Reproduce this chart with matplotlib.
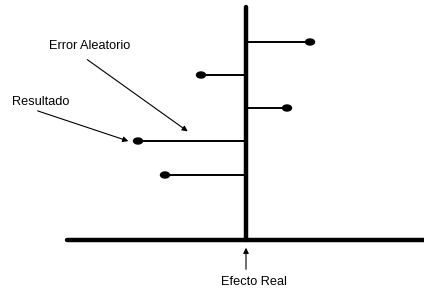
import matplotlib.pyplot as plt
from matplotlib.patches import Ellipse

plt.rcParams['font.family'] = ['Liberation Sans', 'DejaVu Sans']

# Datos (coordenadas del diagrama)
efecto_real = 246
filas = [42, 75, 108, 141, 175]
resultados = [310, 201, 287, 138, 165]
eje_y = 240

fig = plt.figure(figsize=(4.24, 2.89), dpi=100)
ax = fig.add_axes([0, 0, 1, 1])
ax.set_xlim(0, 424)
ax.set_ylim(289, 0)
ax.axis('off')

# Ejes principales
ax.plot([67, 424], [eje_y, eje_y], color='black', lw=3.2, solid_capstyle='round')
ax.plot([efecto_real, efecto_real], [7, eje_y], color='black', lw=3.2, solid_capstyle='round')

# Resultados con su error aleatorio
for y, x in zip(filas, resultados):
    ax.plot([efecto_real, x], [y, y], color='black', lw=1.4)
    ax.add_patch(Ellipse((x, y), 9, 6, color='black'))

# Etiquetas con flechas
flecha = dict(arrowstyle='-|>', color='black', lw=0.8, mutation_scale=8)
ax.text(90, 46, 'Error Aleatorio', fontsize=9.2, ha='center', va='center')
ax.annotate('', xy=(190, 133), xytext=(85, 58), arrowprops=flecha)
ax.text(12, 102, 'Resultado', fontsize=9.2, ha='left', va='center')
ax.annotate('', xy=(131, 142), xytext=(35, 110), arrowprops=flecha)
ax.annotate('', xy=(efecto_real, 245), xytext=(efecto_real, 272), arrowprops=flecha)
ax.text(254, 282, 'Efecto Real', fontsize=9.2, ha='center', va='center')

fig.savefig('out.png', dpi=100)
